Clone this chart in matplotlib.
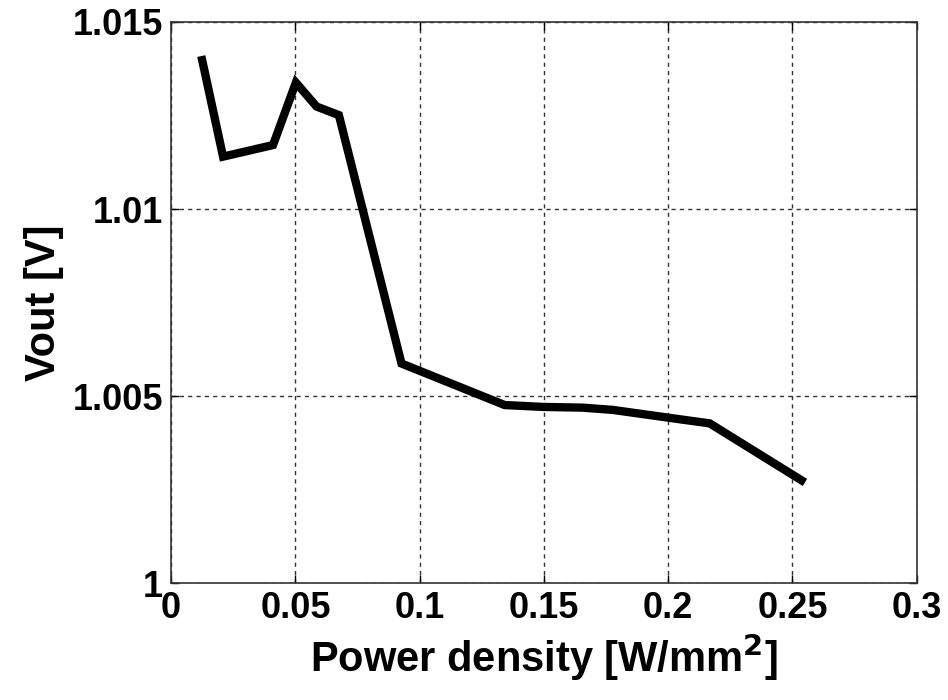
import matplotlib
matplotlib.use("Agg")
import matplotlib.pyplot as plt

power_density = [0.0125, 0.0209, 0.0410, 0.0502, 0.0585, 0.0675, 0.0927,
                 0.1342, 0.1495, 0.1656, 0.1777, 0.2046, 0.2167, 0.2536]
vout = [1.01398, 1.01140, 1.01171, 1.01338, 1.01274, 1.01251, 1.00587,
        1.00476, 1.00471, 1.00469, 1.00463, 1.00438, 1.00427, 1.00275]
xticks = [0, 0.05, 0.1, 0.15, 0.2, 0.25, 0.3]
xticklabels = ["0", "0.05", "0.1", "0.15", "0.2", "0.25", "0.3"]
yticks = [1.0, 1.005, 1.01, 1.015]
yticklabels = ["1", "1.005", "1.01", "1.015"]

plt.rcParams['font.family'] = ['Liberation Sans', 'DejaVu Sans']
fig = plt.figure(figsize=(9.48, 7), dpi=100)
ax = fig.add_axes([0.1805, 0.167, 0.967 - 0.1805, 0.9686 - 0.167])
ax.plot(power_density, vout, color='black', lw=6, solid_joinstyle='miter')
ax.set_xlim(0, 0.3)
ax.set_ylim(1.0, 1.015)
ax.set_xticks(xticks)
ax.set_xticklabels(xticklabels, fontsize=26, fontweight='bold')
ax.set_yticks(yticks)
ax.set_yticklabels(yticklabels, fontsize=26, fontweight='bold')
ax.tick_params(direction='in', top=True, right=True, length=6, width=1, pad=6)
ax.grid(True, color='#333333', linestyle=(0, (3, 3)), linewidth=1)
for s in ax.spines.values():
    s.set_linewidth(1.2)
    s.set_color('#333333')
ax.set_xlabel("Power density [W/mm$^\\mathbf{2}$]", fontsize=30, fontweight='bold', labelpad=4)
ax.set_ylabel("Vout [V]", fontsize=30, fontweight='bold', labelpad=6)
fig.savefig("out.png", dpi=100)
